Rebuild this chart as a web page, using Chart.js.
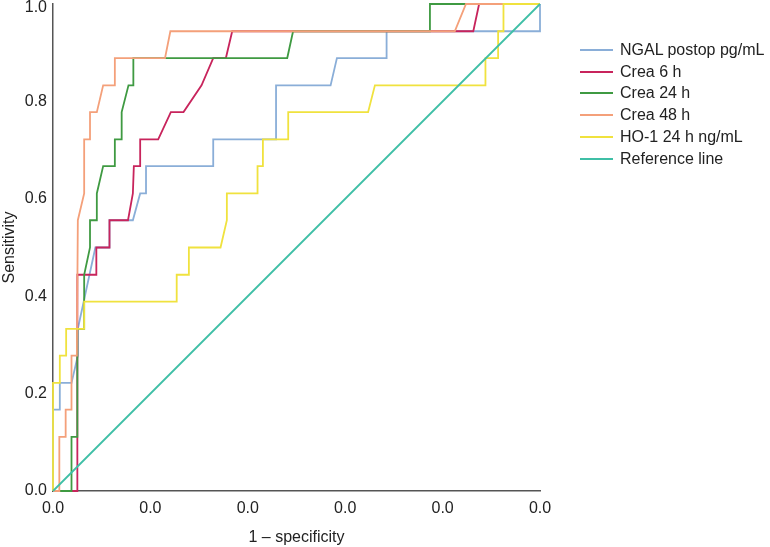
<!DOCTYPE html>
<html>
<head>
<meta charset="utf-8">
<script src="https://cdn.jsdelivr.net/npm/chart.js@4.4.1/dist/chart.umd.min.js"></script>
<style>
  html, body { margin: 0; padding: 0; background: #fff; }
  #wrap { position: relative; width: 770px; height: 547px; }
  #rocChart { position: absolute; left: 0; top: 0; }
  #legend {
    position: absolute; left: 580px; top: 39px;
    font-family: "Liberation Sans", Arial, sans-serif; font-size: 16px; color: #222;
  }
  .item { display: flex; align-items: center; height: 21.8px; white-space: nowrap; }
  .swatch { width: 33px; height: 2px; margin-right: 7px; }
</style>
</head>
<body>
<div id="wrap">
  <canvas id="rocChart" width="770" height="547"></canvas>
  <div id="legend"></div>
</div>
<script>
// series labels and colours (legend order)
const seriesLabels = ['NGAL postop pg/mL', 'Crea 6 h', 'Crea 24 h', 'Crea 48 h', 'HO-1 24 h ng/mL', 'Reference line'];
const seriesColors = ['#8aaed8', '#c8245c', '#3f9a42', '#f4a07a', '#f0e23e', '#3fbfa6'];

// ROC points: [1 - specificity, sensitivity]
const ngalPoints = [[0,0],[0,0.167],[0.014,0.167],[0.014,0.222],[0.038,0.222],[0.051,0.278],[0.051,0.333],
  [0.087,0.5],[0.116,0.5],[0.116,0.556],[0.164,0.556],[0.179,0.611],[0.191,0.611],[0.191,0.667],
  [0.329,0.667],[0.329,0.722],[0.458,0.722],[0.458,0.833],[0.57,0.833],[0.583,0.889],[0.685,0.889],
  [0.685,0.944],[1,0.944],[1,1]];
const crea6Points = [[0,0],[0.05,0],[0.05,0.444],[0.089,0.444],[0.089,0.5],[0.116,0.5],[0.116,0.556],
  [0.154,0.556],[0.164,0.611],[0.166,0.667],[0.179,0.667],[0.179,0.722],[0.216,0.722],[0.242,0.778],
  [0.268,0.778],[0.305,0.833],[0.329,0.889],[0.355,0.889],[0.368,0.944],[0.863,0.944],[0.875,1],[1,1]];
const crea24Points = [[0,0],[0.038,0],[0.038,0.111],[0.05,0.111],[0.05,0.333],[0.064,0.333],[0.064,0.444],
  [0.076,0.5],[0.076,0.556],[0.09,0.556],[0.09,0.611],[0.103,0.667],[0.127,0.667],[0.127,0.722],
  [0.141,0.722],[0.141,0.778],[0.155,0.833],[0.165,0.833],[0.165,0.889],[0.481,0.889],[0.493,0.944],
  [0.774,0.944],[0.774,1],[1,1]];
const crea48Points = [[0,0],[0.013,0],[0.013,0.111],[0.026,0.111],[0.026,0.167],[0.038,0.167],[0.038,0.278],
  [0.049,0.278],[0.051,0.556],[0.064,0.611],[0.064,0.722],[0.076,0.722],[0.076,0.778],[0.09,0.778],
  [0.103,0.833],[0.127,0.833],[0.127,0.889],[0.23,0.889],[0.241,0.944],[0.825,0.944],[0.848,1],[1,1]];
const ho1Points = [[0,0],[0,0.222],[0.014,0.222],[0.014,0.278],[0.027,0.278],[0.027,0.333],[0.064,0.333],
  [0.064,0.389],[0.254,0.389],[0.254,0.444],[0.279,0.444],[0.279,0.5],[0.344,0.5],[0.357,0.556],
  [0.357,0.611],[0.42,0.611],[0.42,0.667],[0.431,0.667],[0.431,0.722],[0.483,0.722],[0.483,0.778],
  [0.647,0.778],[0.661,0.833],[0.888,0.833],[0.888,0.889],[0.914,0.889],[0.914,0.944],[0.925,0.944],
  [0.925,1],[1,1]];
const referencePoints = [[0,0],[1,1]];

// tick labels as printed in the figure
const xTickLabels = ['0.0', '0.0', '0.0', '0.0', '0.0', '0.0'];
const yTickLabels = ['0.0', '0.2', '0.4', '0.6', '0.8', '1.0'];

const allPoints = [ngalPoints, crea6Points, crea24Points, crea48Points, ho1Points, referencePoints];
const fontFamily = '"Liberation Sans", Arial, sans-serif';

function toXY(points) {
    return points.map(p => ({ x: p[0], y: p[1] }));
}

const datasets = allPoints.map((points, i) => ({
    label: seriesLabels[i],
    data: toXY(points),
    showLine: true,
    borderColor: seriesColors[i],
    borderWidth: 1.8,
    pointRadius: 0,
    tension: 0,
    fill: false,
    clip: 4,
    order: i === 5 ? 0 : 6 - i
}));

const lastY = yTickLabels.length - 1;

new Chart(document.getElementById('rocChart'), {
    type: 'scatter',
    data: { datasets: datasets },
    options: {
        responsive: false,
        animation: false,
        layout: { autoPadding: false, padding: { top: 4, right: 230, left: 0, bottom: 0 } },
        plugins: { legend: { display: false }, tooltip: { enabled: false } },
        scales: {
            x: {
                type: 'linear', min: 0, max: 1,
                grid: { display: false, drawTicks: false, tickLength: 0 },
                border: { display: true, color: '#555', width: 1.5 },
                afterFit: scale => {
                    scale.height = 56;
                    scale.paddingLeft = 0;
                    scale.paddingRight = 0;
                },
                ticks: {
                    stepSize: 0.2, padding: 8, color: '#222',
                    font: { family: fontFamily, size: 16 },
                    callback: (value, index) => xTickLabels[index]
                },
                title: {
                    display: true, text: '1 \u2013 specificity', color: '#222',
                    font: { family: fontFamily, size: 16 },
                    padding: { top: 10, bottom: 0 }
                }
            },
            y: {
                type: 'linear', min: 0, max: 1,
                grid: { display: false, drawTicks: false, tickLength: 0 },
                border: { display: true, color: '#555', width: 1.5 },
                afterFit: scale => {
                    scale.width = 53;
                    scale.paddingTop = 0;
                    scale.paddingBottom = 0;
                },
                ticks: {
                    stepSize: 0.2, padding: 6, color: '#222',
                    // the top label sits a little below its tick so it is not cut off
                    font: ctx => ({ family: fontFamily, size: 16, lineHeight: ctx.index === lastY ? 0.5 : 1.2 }),
                    callback: (value, index) => index === lastY ? ['', yTickLabels[index]] : yTickLabels[index]
                },
                title: {
                    display: true, text: 'Sensitivity', color: '#222',
                    font: { family: fontFamily, size: 16 },
                    padding: { top: 0, bottom: 6 }
                }
            }
        }
    }
});

// legend built from the same labels and colours
const legendBox = document.getElementById('legend');
seriesLabels.forEach((label, i) => {
    const item = document.createElement('div');
    item.className = 'item';
    const swatch = document.createElement('span');
    swatch.className = 'swatch';
    swatch.style.background = seriesColors[i];
    const text = document.createElement('span');
    text.textContent = label;
    item.appendChild(swatch);
    item.appendChild(text);
    legendBox.appendChild(item);
});
</script>
</body>
</html>
